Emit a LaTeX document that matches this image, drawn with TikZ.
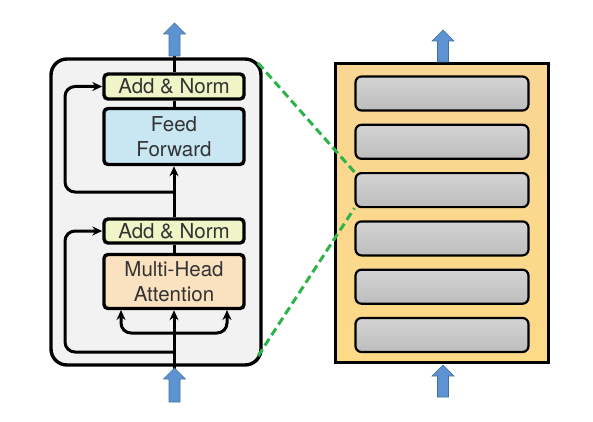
\documentclass[tikz,border=0pt]{standalone}
\usepackage{fontspec}
\setmainfont{TeX Gyre Heros}
\usetikzlibrary{arrows.meta}
\definecolor{encfill}{HTML}{F2F2F2}
\definecolor{normfill}{HTML}{EFF5C6}
\definecolor{fffill}{HTML}{C9E6F3}
\definecolor{attfill}{HTML}{FAE2C0}
\definecolor{stacktop}{HTML}{F9D693}
\definecolor{stackbot}{HTML}{FCDA86}
\definecolor{arrblue}{HTML}{5E93D3}
\definecolor{arredge}{HTML}{41719C}
\definecolor{dashgreen}{HTML}{2DB34A}
\begin{document}
\begin{tikzpicture}[x=1pt, y=-1pt, >={Stealth[length=10pt,width=9pt]},
    blk/.style={draw, line width=3.4pt, rounded corners=4pt, minimum width=140pt,
        inner sep=0pt, align=center, text=black!80, font=\fontsize{20.5}{25}\selectfont},
    flow/.style={line width=3pt},
    layer/.style={draw, line width=2.2pt, rounded corners=6pt, minimum width=173pt,
        minimum height=34pt, top color=black!17, bottom color=black!26}]
    \useasboundingbox (0,0) rectangle (593,422);
    % encoder block
    \node[draw, line width=3.4pt, rounded corners=16pt, fill=encfill,
        minimum width=210pt, minimum height=306pt] (enc) at (156,212) {};
    \node[blk, fill=normfill, minimum height=25pt] (an1) at (174,86.5) {Add \& Norm};
    \node[blk, fill=fffill, minimum height=56pt] (ff) at (174,136.5) {Feed\\Forward};
    \node[blk, fill=normfill, minimum height=24pt] (an2) at (174,231) {Add \& Norm};
    \node[blk, fill=attfill, minimum height=54pt] (mha) at (174,281.5) {Multi-Head\\Attention};
    \coordinate (in) at (174,369);
    \coordinate (out) at (174,56);
    \coordinate (br) at (174,333);
    \coordinate (res1) at (174,192);
    \coordinate (res2) at (174,352);
    \draw[flow] (in) -- (br);
    \draw[flow, ->] (br) -- (mha.south);
    \draw[flow, ->, rounded corners=10pt] (br) -- (121,333) -- (121,310);
    \draw[flow, ->, rounded corners=10pt] (br) -- (227,333) -- (227,310);
    \draw[flow] (mha) -- (an2);
    \draw[flow, ->] (an2) -- (ff);
    \draw[flow] (ff) -- (an1);
    \draw[flow] (an1) -- (out);
    \draw[flow, ->, rounded corners=10pt] (res2) -- (65,352) -- (65,231) -- (an2.west);
    \draw[flow, ->, rounded corners=10pt] (res1) -- (65,192) -- (65,86.5) -- (an1.west);
    % stack of layers
    \node[draw, line width=3.6pt, top color=stacktop, bottom color=stackbot,
        minimum width=213pt, minimum height=299pt] (stack) at (442,213) {};
    \foreach \i in {1,...,6}
        \node[layer] (l\i) at (442,{93.5+48.3*(\i-1)}) {};
    % block arrows
    \foreach \x/\yb/\yt in {174.5/56/23, 174.5/402/368, 443/62/30, 443/397/365}
        \draw[fill=arrblue, draw=arredge, line width=0.6pt]
            (\x-5.5,\yb) -- (\x-5.5,\yt+11) -- (\x-11,\yt+11) -- (\x,\yt)
            -- (\x+11,\yt+11) -- (\x+5.5,\yt+11) -- (\x+5.5,\yb) -- cycle;
    % zoom lines
    \coordinate (zt) at (258,63);
    \coordinate (zb) at (258,356);
    \draw[dashgreen, line width=3pt, dash pattern=on 8pt off 4.5pt] (zt) -- (l3.north west);
    \draw[dashgreen, line width=3pt, dash pattern=on 8pt off 4.5pt] (zb) -- (l3.south west);
\end{tikzpicture}
\end{document}
